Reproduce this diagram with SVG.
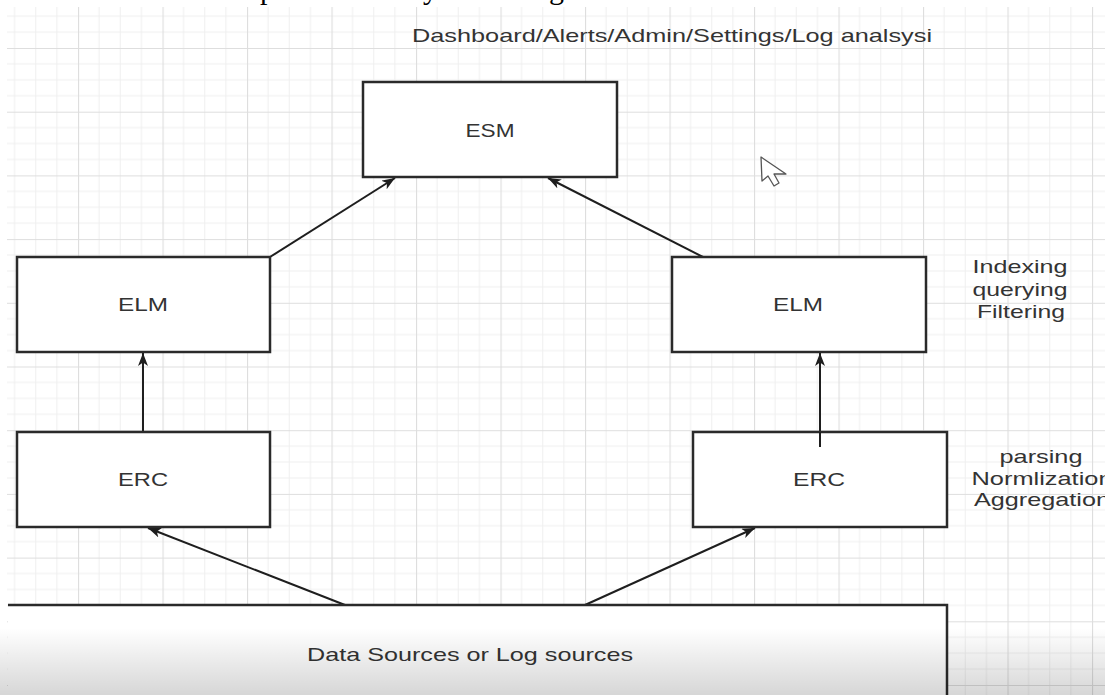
<svg xmlns="http://www.w3.org/2000/svg" width="1105" height="695" viewBox="0 0 1105 695">
  <style>
    .box { fill: #ffffff; stroke: #2a2a2a; stroke-width: 2.5; }
    .lbl { font-family: "Liberation Sans", Arial, sans-serif; font-size: 19px; fill: #333333; text-anchor: middle; }
    .note { font-family: "Liberation Sans", Arial, sans-serif; font-size: 19px; fill: #333333; text-anchor: middle; }
    .conn { stroke: #1e1e1e; stroke-width: 2; fill: none; marker-end: url(#arrow); }
    .top { font-family: "Liberation Serif", "Times New Roman", serif; font-size: 30px; fill: #000000; }
  </style>
  <defs>
    <pattern id="grid" patternUnits="userSpaceOnUse" x="78" y="48" width="84.5" height="63.7">
      <rect width="84.5" height="63.7" fill="#ffffff"/>
      <g stroke="#efefef" stroke-width="1">
        <line x1="21.1" y1="0" x2="21.1" y2="63.7"/>
        <line x1="42.25" y1="0" x2="42.25" y2="63.7"/>
        <line x1="63.4" y1="0" x2="63.4" y2="63.7"/>
        <line x1="0" y1="15.9" x2="84.5" y2="15.9"/>
        <line x1="0" y1="31.85" x2="84.5" y2="31.85"/>
        <line x1="0" y1="47.8" x2="84.5" y2="47.8"/>
      </g>
      <g stroke="#dedede" stroke-width="1.2">
        <line x1="0.5" y1="0" x2="0.5" y2="63.7"/>
        <line x1="0" y1="0.5" x2="84.5" y2="0.5"/>
      </g>
    </pattern>
    <marker id="arrow" markerUnits="userSpaceOnUse" markerWidth="16" markerHeight="12" refX="13" refY="5" orient="auto">
      <path d="M0,0 L13,5 L0,10 L3.5,5 Z" fill="#1e1e1e"/>
    </marker>
    <linearGradient id="fade" x1="0" y1="0" x2="0" y2="1">
      <stop offset="0" stop-color="#000000" stop-opacity="0"/>
      <stop offset="1" stop-color="#000000" stop-opacity="0.16"/>
    </linearGradient>
  </defs>

  <rect x="0" y="0" width="1105" height="695" fill="#ffffff"/>
  <rect x="7" y="7" width="1098" height="688" fill="url(#grid)"/>

  <!-- cut-off line of text at the very top -->
  <text class="top" x="260" y="-1">p</text>
  <text class="top" x="423" y="-1">y</text>
  <text class="top" x="549" y="-1">g</text>

  <text class="note" x="672" y="42" textLength="520" lengthAdjust="spacingAndGlyphs">Dashboard/Alerts/Admin/Settings/Log analsysi</text>

  <g id="connectors">
    <line class="conn" x1="270" y1="257" x2="395" y2="178"/>
    <line class="conn" x1="703" y1="257" x2="548" y2="178"/>
    <line class="conn" x1="143" y1="432" x2="143" y2="353"/>
    <line class="conn" x1="820" y1="447" x2="820" y2="353"/>
    <line class="conn" x1="345" y1="605" x2="148" y2="528"/>
    <line class="conn" x1="585" y1="605" x2="755" y2="528"/>
  </g>

  <g id="esm">
    <rect class="box" x="363" y="82" width="254" height="95"/>
    <text class="lbl" x="490" y="137" textLength="49" lengthAdjust="spacingAndGlyphs">ESM</text>
  </g>

  <g id="elm-left">
    <rect class="box" x="17" y="257" width="253" height="95"/>
    <text class="lbl" x="143" y="311" textLength="50" lengthAdjust="spacingAndGlyphs">ELM</text>
  </g>

  <g id="elm-right">
    <rect class="box" x="672" y="257" width="254" height="95"/>
    <text class="lbl" x="798" y="311" textLength="50" lengthAdjust="spacingAndGlyphs">ELM</text>
  </g>

  <g id="erc-left">
    <rect class="box" x="17" y="432" width="253" height="95"/>
    <text class="lbl" x="143" y="486" textLength="50" lengthAdjust="spacingAndGlyphs">ERC</text>
  </g>

  <g id="erc-right">
    <rect class="box" x="693" y="432" width="254" height="95"/>
    <line x1="820" y1="432" x2="820" y2="447" stroke="#1e1e1e" stroke-width="2"/>
    <text class="lbl" x="819" y="486" textLength="52" lengthAdjust="spacingAndGlyphs">ERC</text>
  </g>

  <g id="note-indexing">
    <text class="note" x="1020" y="273" textLength="95" lengthAdjust="spacingAndGlyphs">Indexing</text>
    <text class="note" x="1020" y="296" textLength="95" lengthAdjust="spacingAndGlyphs">querying</text>
    <text class="note" x="1021" y="318" textLength="88" lengthAdjust="spacingAndGlyphs">Filtering</text>
  </g>

  <g id="note-parsing">
    <text class="note" x="1041" y="463" textLength="83" lengthAdjust="spacingAndGlyphs">parsing</text>
    <text class="note" x="1042" y="485" textLength="141" lengthAdjust="spacingAndGlyphs">Normlization</text>
    <text class="note" x="1042" y="506" textLength="136" lengthAdjust="spacingAndGlyphs">Aggregation</text>
  </g>

  <g id="data-sources">
    <rect x="8" y="605" width="939" height="100" fill="#ffffff"/>
    <path d="M8,605 L947,605 L947,700" fill="none" stroke="#2a2a2a" stroke-width="2.5"/>
    <text class="lbl" x="470" y="661" textLength="326" lengthAdjust="spacingAndGlyphs">Data Sources or Log sources</text>
  </g>

  <!-- mouse pointer -->
  <path d="M761,157 L762,181 L768,176 L774,186 L779,183 L774,174 L786,174 Z" fill="#ffffff" stroke="#555555" stroke-width="1.3" stroke-linejoin="round"/>

  <rect x="0" y="628" width="1105" height="67" fill="url(#fade)"/>
</svg>
